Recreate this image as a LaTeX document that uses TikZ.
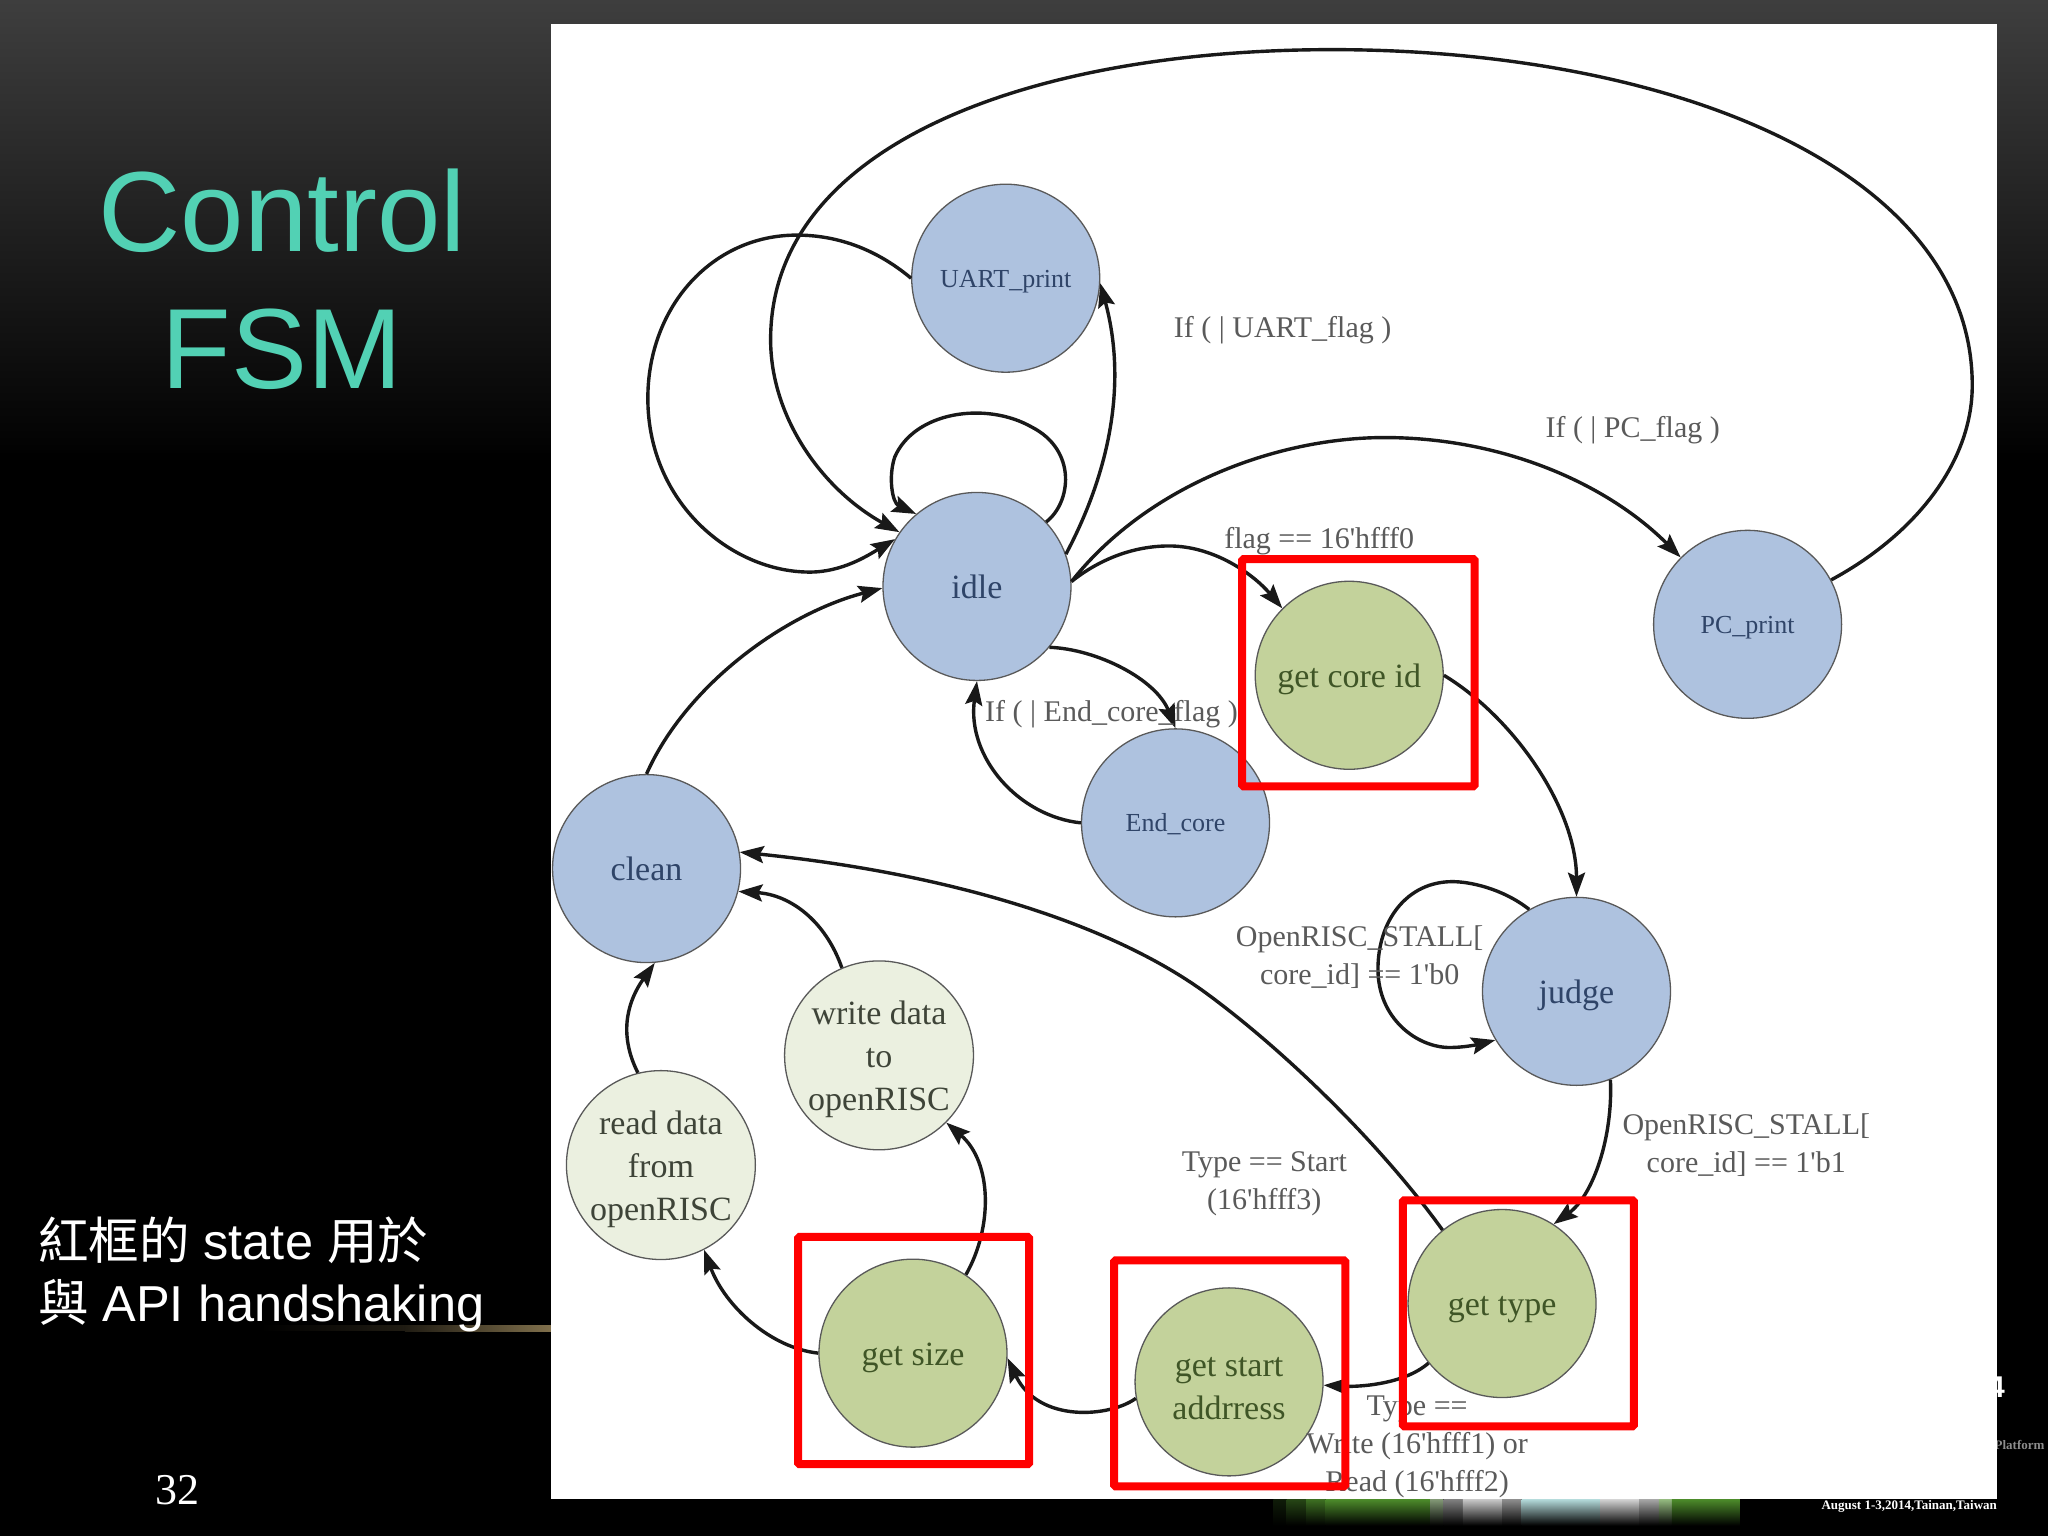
\documentclass[tikz,border=0pt]{standalone}
\usepackage{fontspec}
\setmainfont{Liberation Serif}
\newfontfamily\sansf{Liberation Sans}
\newfontfamily\cjk{Noto Sans CJK TC}
\usetikzlibrary{arrows.meta}
\definecolor{nodeblue}{HTML}{AEC2DF}
\definecolor{nodegreen}{HTML}{C3D29B}
\definecolor{nodepale}{HTML}{EBF0E0}
\definecolor{titleteal}{HTML}{52D1B4}
\definecolor{txtblue}{HTML}{2F4468}
\definecolor{txtgreen}{HTML}{3F5526}
\definecolor{txtpale}{HTML}{3E4438}
\definecolor{lbl}{HTML}{5A5A5A}
\definecolor{bgtop}{HTML}{3E3E3E}
\definecolor{streak}{HTML}{80704C}
\definecolor{gr}{HTML}{4C8A2A}
\newcommand{\aq}{\textquotesingle}
\newcommand{\lift}{\rule{0pt}{32pt}}
\tikzset{
  state/.style={circle,draw=black!65,line width=1.3pt,minimum size=188pt,inner sep=0pt,align=center,font=\fontsize{34}{43}\selectfont},
  oneline/.style={text height=24pt,text depth=0pt},
  blue/.style={state,fill=nodeblue,text=txtblue},
  bluesmall/.style={blue,font=\fontsize{26}{32}\selectfont,text height=18pt,text depth=0pt},
  green/.style={state,fill=nodegreen,text=txtgreen},
  pale/.style={state,fill=nodepale,text=txtpale},
  edge/.style={draw=black!90,line width=3.4pt,-{Stealth[length=24pt,width=17pt,inset=4pt]}},
  lab/.style={text=lbl,align=center,inner sep=0pt,font=\fontsize{30}{38}\selectfont},
  redbox/.style={draw=red,line width=8pt,rounded corners=1.5pt},
}
\begin{document}
\begin{tikzpicture}[x=1.30612pt,y=-1.30612pt]
\useasboundingbox (0,0) rectangle (1568,1176);
% slide background
\fill[black] (0,0) rectangle (1568,1176);
\fill[top color=bgtop,bottom color=black] (0,0) rectangle (1568,355);
\fill[left color=black,right color=streak!25!black] (200,1015) rectangle (310,1019);
\fill[left color=streak!25!black,right color=streak] (310,1014.5) rectangle (422,1019.5);
\foreach \xa/\xb/\c in {975/985/gr!20!black,985/1000/gr!50!black,1000/1015/gr!80!black,1015/1095/gr,1095/1105/gr!60!black!60!white,1105/1120/black!50,1120/1150/black!22,1150/1165/black!45,1165/1225/black!50!cyan!30!white,1225/1255/black!18,1255/1270/black!35,1270/1280/gr!60!white,1280/1332/gr}{
  \fill[top color=\c,bottom color=black] (\xa,1148) rectangle (\xb,1168);
}
\node[text=white,anchor=east,inner sep=0pt,font=\sansf\bfseries\fontsize{30}{32}\selectfont] (four) at (1535,1062) {4};
\node[text=black!45,anchor=west,inner sep=0pt,font=\bfseries\fontsize{13}{14}\selectfont] (platform) at (1527,1106) {Platform};
\fill[white] (422,18) rectangle (1529,1148);
% slide text
\node[text=titleteal,align=center,inner sep=0pt,font=\sansf\fontsize{114}{137}\selectfont] (title) at (216,214) {Control\\FSM};
\node[text=white,anchor=west,align=left,inner sep=0pt,font=\sansf\fontsize{50.5}{62}\selectfont] (note) at (29,976) {{\cjk 紅框的} state {\cjk 用於}\\{\cjk 與} API handshaking};
\node[text=white,inner sep=0pt,font=\fontsize{44}{50}\selectfont] (pagenum) at (136,1141) {32};
\node[text=white,anchor=east,inner sep=0pt,font=\bfseries\fontsize{13}{15}\selectfont] (dateline) at (1529,1153) {August 1-3,2014,Tainan,Taiwan};
% states
\node[bluesmall] (uart) at (770,213) {UART\_print};
\node[blue,oneline] (idle) at (748,449) {idle};
\node[green,oneline] (core) at (1033,517) {get core id};
\node[bluesmall] (pc) at (1338,478) {PC\_print};
\node[bluesmall] (endc) at (900,630) {End\_core};
\node[blue,oneline] (clean) at (495,665) {clean};
\node[blue,oneline] (judge) at (1207,759) {judge};
\node[pale] (write) at (673,808) {\lift write data\\to\\openRISC};
\node[pale] (read) at (506,892) {\lift read data\\from\\openRISC};
\node[green,oneline] (size) at (699,1036) {get size};
\node[green] (start) at (941,1058) {\lift get start\\addrress};
\node[green,oneline] (type) at (1150,998) {get type};
% transitions
\draw[edge] (uart.180) .. controls (670,190) and (640,180) .. (610,180) .. controls (545,180) and (496,235) .. (496,305) .. controls (496,385) and (560,438) .. (620,438) .. controls (645,438) and (665,425) .. (idle.150);
\draw[edge] (pc.28) .. controls (1465,410) and (1510,355) .. (1510,295) .. controls (1510,130) and (1280,38) .. (1020,38) .. controls (790,38) and (590,110) .. (590,260) .. controls (590,320) and (630,375) .. (idle.145);
\draw[edge] (idle.43) .. controls (820,385) and (825,345) .. (790,327) .. controls (755,307) and (700,315) .. (685,350) .. controls (680,365) and (683,385) .. (idle.130);
\draw[edge] (idle.20) .. controls (845,370) and (865,300) .. (uart.-3);
\draw[edge] (idle.3) .. controls (880,370) and (980,335) .. (1060,335) .. controls (1150,335) and (1230,370) .. (pc.135);
\draw[edge] (idle.3) .. controls (842,428) and (868,418) .. (895,418) .. controls (930,418) and (960,440) .. (core.135);
\draw[edge] (idle.-40) .. controls (840,497) and (885,520) .. (endc.90);
\draw[edge] (endc.180) .. controls (780,625) and (740,580) .. (idle.270);
\draw[edge] (core.0) .. controls (1160,550) and (1207,620) .. (judge.90);
\draw[edge] (judge.120) .. controls (1150,680) and (1125,675) .. (1112,675) .. controls (1077,675) and (1055,705) .. (1055,742) .. controls (1055,780) and (1085,802) .. (1110,802) .. controls (1120,802) and (1130,800) .. (judge.211);
\draw[edge] (judge.-69) .. controls (1235,870) and (1220,915) .. (type.57);
\draw[edge] (type.129) .. controls (1060,880) and (990,810) .. (927,763) .. controls (850,705) and (720,668) .. (clean.10);
\draw[edge] (type.-141) .. controls (1075,1060) and (1040,1062) .. (start.-2);
\draw[edge] (start.190) .. controls (850,1085) and (795,1090) .. (size.-3);
\draw[edge] (size.180) .. controls (590,1032) and (555,1000) .. (read.-63);
\draw[edge] (size.56) .. controls (760,940) and (760,890) .. (write.-45);
\draw[edge] (read.104) .. controls (475,795) and (478,770) .. (clean.-85);
\draw[edge] (write.113) .. controls (632,705) and (605,685) .. (clean.-14);
\draw[edge] (clean.90) .. controls (525,525) and (600,470) .. (idle.181);
% transition labels
\node[lab] (l1) at (982,253) {If ( | UART\_flag )};
\node[lab] (l2) at (1250,329) {If ( | PC\_flag )};
\node[lab] (l3) at (1010,414) {flag == 16\aq hfff0};
\node[lab] (l4) at (851,547) {If ( | End\_core\_flag )};
\node[lab] (l5) at (1041,733) {OpenRISC\_STALL[\\core\_id] == 1\aq b0};
\node[lab] (l6) at (1337,877) {OpenRISC\_STALL[\\core\_id] == 1\aq b1};
\node[lab] (l7) at (968,906) {Type == Start\\(16\aq hfff3)};
\node[lab] (l8) at (1085,1108) {Type ==\\Write (16\aq hfff1) or\\Read (16\aq hfff2)};
% highlight frames
\draw[redbox] (951,428) rectangle (1129,602);
\draw[redbox] (1074,919) rectangle (1251,1092);
\draw[redbox] (853,965) rectangle (1030,1138);
\draw[redbox] (611,947) rectangle (788,1121);
\end{tikzpicture}
\end{document}
